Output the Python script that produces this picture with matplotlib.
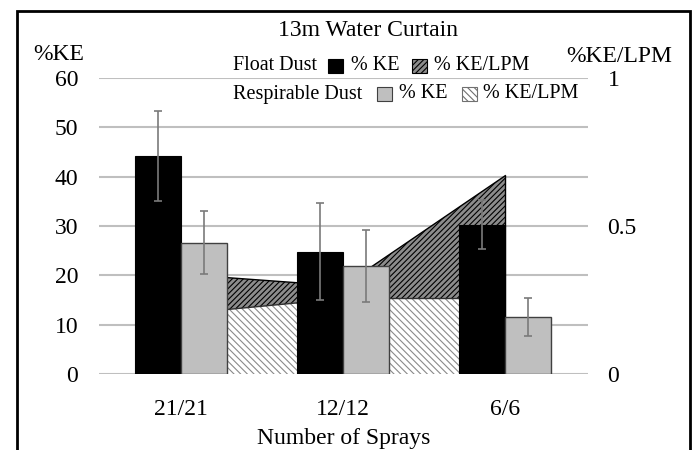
import matplotlib
matplotlib.use("Agg")
import matplotlib.pyplot as plt
from matplotlib.patches import Rectangle
import numpy as np

plt.rcParams['font.family'] = ['Liberation Serif', 'DejaVu Serif']
plt.rcParams['hatch.linewidth'] = 0.8

# ---- data ----
categories = ['21/21', '12/12', '6/6']
float_ke = [44.2, 24.8, 30.3]
float_ke_err = [9.2, 9.9, 4.9]
resp_ke = [26.6, 21.8, 11.6]
resp_ke_err = [6.4, 7.3, 3.9]
float_ke_lpm = [0.337, 0.297, 0.67]
resp_ke_lpm = [0.203, 0.255, 0.255]
left_ticks = [0, 10, 20, 30, 40, 50, 60]
right_ticks = [0, 0.5, 1]
right_tick_labels = ['0', '0.5', '1']

W, H = 695, 450
def fx(p): return p / W
def fy(p): return 1 - p / H

fig = plt.figure(figsize=(W / 100, H / 100), dpi=100)
ax = fig.add_axes([fx(99), fy(374), (588 - 99) / W, (374 - 78) / H])
ax2 = ax.twinx()
ax.set_zorder(ax2.get_zorder() + 1)
ax.patch.set_visible(False)

x = np.arange(len(categories))
bw = 0.283

FLOAT_HATCH = '//////'
FLOAT_FACE = '#8c8c8c'
RESP_HATCH = '\\\\\\\\\\'

# gridlines (behind everything)
for v in left_ticks:
    ax2.axhline(v / 60, color='#bfbfbf', lw=1.5, zorder=0)

# areas on secondary axis
ax2.fill_between(x, 0, float_ke_lpm, facecolor=FLOAT_FACE, hatch=FLOAT_HATCH,
                 edgecolor='black', lw=0, zorder=1)
ax2.plot(x, float_ke_lpm, color='black', lw=1, zorder=2)
ax2.plot([x[-1], x[-1]], [0, float_ke_lpm[-1]], color='black', lw=1, zorder=2)
ax2.fill_between(x, 0, resp_ke_lpm, facecolor='white', hatch=RESP_HATCH,
                 edgecolor='#8a8a8a', lw=0, zorder=3)
ax2.plot(x, resp_ke_lpm, color='#303030', lw=1, zorder=4)

# bars
ax.bar(x - bw / 2, float_ke, bw, color='black', edgecolor='black', lw=0.8, zorder=3)
ax.bar(x + bw / 2, resp_ke, bw, color='#bfbfbf', edgecolor='#404040', lw=1.0, zorder=3)
ax.errorbar(x - bw / 2, float_ke, yerr=float_ke_err, fmt='none', ecolor='#7a7a7a',
            elinewidth=1.2, capsize=3, capthick=1.2, zorder=4)
ax.errorbar(x + bw / 2, resp_ke, yerr=resp_ke_err, fmt='none', ecolor='#7a7a7a',
            elinewidth=1.2, capsize=3, capthick=1.2, zorder=4)

ax.set_xlim(-0.505, 2.51)
ax.set_ylim(0, 60)
ax2.set_ylim(0, 1)
ax.set_yticks(left_ticks)
ax.set_xticks(x)
ax.set_xticklabels(categories)
ax2.set_yticks(right_ticks)
ax2.set_yticklabels(right_tick_labels)

for a in (ax, ax2):
    for s in a.spines.values():
        s.set_visible(False)
ax.tick_params(axis='y', length=0, labelsize=17, pad=15)
ax.tick_params(axis='x', length=0, labelsize=17, pad=18)
ax2.tick_params(axis='y', length=0, labelsize=17, pad=14)

ax.set_xlabel('Number of Sprays', fontsize=17, labelpad=6)

# titles / axis titles
fig.text(fx(368.5), fy(30), '13m Water Curtain', ha='center', va='center', fontsize=17)
fig.text(fx(59), fy(55), '%KE', ha='center', va='center', fontsize=17)
fig.text(fx(619), fy(56.5), '%KE/LPM', ha='center', va='center', fontsize=17)

# legend (two rows)
fs_leg = 14.5
def sq(xp, yc, fc, ec, hatch=None):
    r = Rectangle((fx(xp), fy(yc + 7)), 15 / W, 14 / H, transform=fig.transFigure,
                  facecolor=fc, edgecolor=ec, hatch=hatch, lw=0.8)
    fig.patches.append(r)

y1, y2 = 66, 94
fig.text(fx(233), fy(y1), 'Float Dust', ha='left', va='center', fontsize=fs_leg)
sq(328, y1, 'black', 'black')
fig.text(fx(351), fy(y1), '% KE', ha='left', va='center', fontsize=fs_leg)
sq(412, y1, FLOAT_FACE, 'black', FLOAT_HATCH)
fig.text(fx(434), fy(y1), '% KE/LPM', ha='left', va='center', fontsize=fs_leg)

fig.text(fx(233), fy(y2), 'Respirable Dust', ha='left', va='center', fontsize=fs_leg)
sq(377, y2, '#bfbfbf', '#404040')
fig.text(fx(399), fy(y2), '% KE', ha='left', va='center', fontsize=fs_leg)
sq(462, y2, 'white', '#707070', RESP_HATCH)
fig.text(fx(483), fy(y2), '% KE/LPM', ha='left', va='center', fontsize=fs_leg)

# outer border
border = Rectangle((fx(17), fy(470)), (690 - 17) / W, (470 - 11) / H,
                   transform=fig.transFigure, fill=False, edgecolor='black', lw=2,
                   clip_on=False)
fig.patches.append(border)

fig.savefig('out.png', dpi=100)
